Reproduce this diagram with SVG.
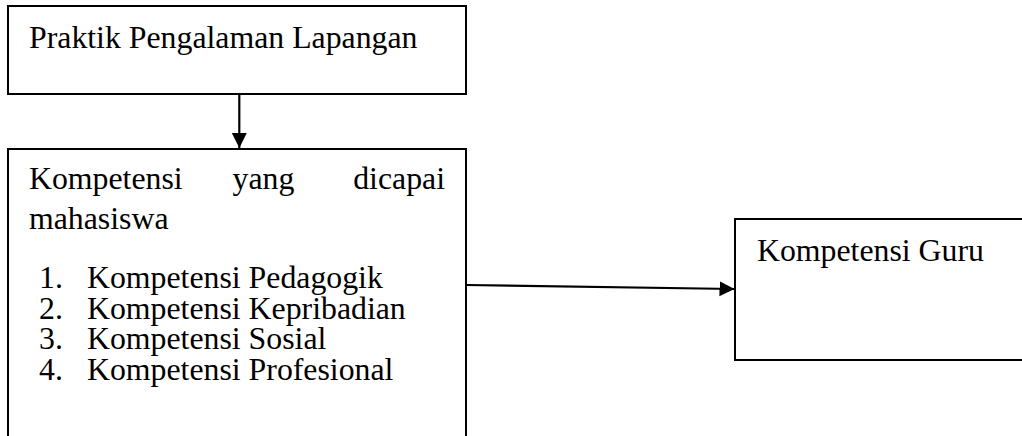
<svg xmlns="http://www.w3.org/2000/svg" width="1022" height="436" viewBox="0 0 1022 436">
<style>
.box{fill:#fff;stroke:#000;stroke-width:2}
.t{font-family:"Liberation Serif","Times New Roman",serif;font-size:31.8px;fill:#000}
.c{stroke:#000;stroke-width:2.2;fill:none}
</style>
<defs>
<marker id="ah" markerWidth="16" markerHeight="16" viewBox="0 0 16 16" refX="15" refY="7.5" orient="auto" markerUnits="userSpaceOnUse">
<path d="M0,0 L15,7.5 L0,15 Z" fill="#000"/>
</marker>
</defs>
<rect width="1022" height="436" fill="#fff"/>
<g id="node-ppl">
<rect class="box" x="8" y="6" width="458" height="88"/>
<text class="t" x="29" y="48">Praktik Pengalaman Lapangan</text>
</g>
<g id="node-kompetensi-mahasiswa">
<rect class="box" x="8" y="149" width="458" height="300"/>
<text class="t"><tspan x="29" y="189">Kompetensi</tspan><tspan x="232.5" y="189">yang</tspan><tspan x="445" y="189" text-anchor="end">dicapai</tspan><tspan x="29" y="229">mahasiswa</tspan></text>
<text class="t"><tspan x="39" y="288">1.</tspan><tspan x="87" y="288">Kompetensi Pedagogik</tspan><tspan x="39" y="319">2.</tspan><tspan x="87" y="319">Kompetensi Kepribadian</tspan><tspan x="39" y="349">3.</tspan><tspan x="87" y="349">Kompetensi Sosial</tspan><tspan x="39" y="380">4.</tspan><tspan x="87" y="380">Kompetensi Profesional</tspan></text>
</g>
<g id="node-kompetensi-guru">
<rect class="box" x="735" y="219" width="300" height="141"/>
<text class="t" x="757" y="261">Kompetensi Guru</text>
</g>
<g id="connectors">
<line class="c" x1="239.3" y1="95" x2="239.3" y2="148" marker-end="url(#ah)"/>
<line class="c" x1="466" y1="285" x2="734.5" y2="289" marker-end="url(#ah)"/>
</g>
</svg>
